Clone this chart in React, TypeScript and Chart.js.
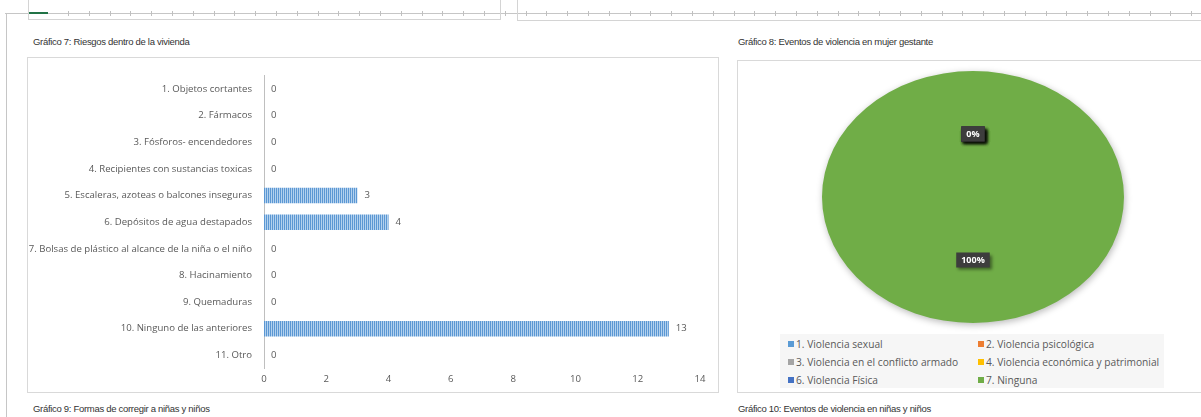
import React, { useEffect, useRef } from "react";
import { Chart, registerables } from "chart.js";

Chart.register(...registerables);

// ---------- Data ----------
const riskCategories = [
  "1. Objetos cortantes",
  "2. Fármacos",
  "3. Fósforos- encendedores",
  "4. Recipientes con sustancias toxicas",
  "5. Escaleras, azoteas o balcones inseguras",
  "6. Depósitos de agua destapados",
  "7. Bolsas de plástico al alcance de la niña o el niño",
  "8. Hacinamiento",
  "9. Quemaduras",
  "10. Ninguno de las anteriores",
  "11. Otro",
];
const riskValues = [0, 0, 0, 0, 3, 4, 0, 0, 0, 13, 0];
const riskAxisMin = 0;
const riskAxisMax = 14;
const riskAxisStep = 2;

const violenceLabels = [
  "1. Violencia sexual",
  "2. Violencia psicológica",
  "3. Violencia en el conflicto armado",
  "4. Violencia económica y patrimonial",
  "6. Violencia Física",
  "7. Ninguna",
];
const violenceValues = [0, 0, 0, 0, 0, 20];
const violenceColors = ["#5b9bd5", "#ed7d31", "#a5a5a5", "#ffc000", "#4472c4", "#70ad47"];

const pageTitles = {
  g7: "Gráfico 7: Riesgos dentro de la vivienda",
  g8: "Gráfico 8: Eventos de violencia en mujer gestante",
  g9: "Gráfico 9: Formas de corregir a niñas y niños",
  g10: "Gráfico 10: Eventos de violencia en niñas y niños",
};

const CHART_FONT = "'Open Sans', 'Noto Sans', sans-serif";
const TEXT_GRAY = "#595959";
const AXIS_FONT_SIZE = 9.6;

function makeStripePattern(): CanvasPattern | string {
  const c = document.createElement("canvas");
  c.width = 2;
  c.height = 1;
  const g = c.getContext("2d");
  if (!g) return "#7aaad9";
  g.fillStyle = "#5b97d3";
  g.fillRect(0, 0, 1, 1);
  g.fillStyle = "#b3d1ee";
  g.fillRect(1, 0, 1, 1);
  const p = g.createPattern(c, "repeat");
  return p || "#7aaad9";
}

const barValueLabels = {
  id: "barValueLabels",
  afterDatasetsDraw(chart: any) {
    const ctx = chart.ctx;
    const meta = chart.getDatasetMeta(0);
    const data = chart.data.datasets[0].data;
    ctx.save();
    ctx.font = `${AXIS_FONT_SIZE}px ${CHART_FONT}`;
    ctx.fillStyle = TEXT_GRAY;
    ctx.textAlign = "left";
    ctx.textBaseline = "middle";
    meta.data.forEach((el: any, i: number) => {
      ctx.fillText(String(data[i]), el.x + 7, el.y);
    });
    ctx.restore();
  },
};

const PIE_STRETCH = 151 / 126;

const ellipsePie = {
  id: "ellipsePie",
  beforeDatasetsDraw(chart: any) {
    const ctx = chart.ctx;
    const el = chart.getDatasetMeta(0).data[0];
    if (!el) return;
    const cx = el.x;
    const cy = el.y;
    ctx.save();
    ctx.translate(cx, cy);
    ctx.scale(PIE_STRETCH, 1);
    ctx.translate(-cx, -cy);
    ctx.shadowColor = "rgba(0,0,0,0.28)";
    ctx.shadowBlur = 7;
    ctx.shadowOffsetX = 1;
    ctx.shadowOffsetY = 2;
  },
  afterDatasetsDraw(chart: any) {
    const ctx = chart.ctx;
    ctx.restore();
    const meta = chart.getDatasetMeta(0);
    const data = chart.data.datasets[0].data as number[];
    const total = data.reduce((a, b) => a + b, 0);
    ctx.save();
    ctx.font = `bold 9px ${CHART_FONT}`;
    ctx.textAlign = "center";
    ctx.textBaseline = "middle";
    meta.data.forEach((el: any, i: number) => {
      const mid = (el.startAngle + el.endAngle) / 2;
      const r = el.outerRadius * 0.5;
      const x = el.x + Math.cos(mid) * r * PIE_STRETCH;
      const y = el.y + Math.sin(mid) * r;
      const txt = Math.round((data[i] / total) * 100) + "%";
      const w = ctx.measureText(txt).width + 10;
      const h = 15;
      ctx.save();
      ctx.shadowColor = "rgba(0,0,0,0.45)";
      ctx.shadowBlur = 3;
      ctx.shadowOffsetX = 2;
      ctx.shadowOffsetY = 2;
      ctx.fillStyle = "#3d3d3d";
      ctx.fillRect(x - w / 2, y - h / 2, w, h);
      ctx.restore();
      ctx.fillStyle = "#ffffff";
      ctx.fillText(txt, x, y + 0.5);
    });
    ctx.restore();
  },
};

function RiskBarChart() {
  const ref = useRef<HTMLCanvasElement | null>(null);
  useEffect(() => {
    if (!ref.current) return;
    const chart = new Chart(ref.current, {
      type: "bar",
      data: {
        labels: riskCategories,
        datasets: [
          {
            data: riskValues,
            backgroundColor: makeStripePattern() as any,
            borderWidth: 0,
            barPercentage: 0.58,
            categoryPercentage: 1,
          },
        ],
      },
      options: {
        indexAxis: "y",
        animation: false,
        responsive: false,
        maintainAspectRatio: false,
        layout: { padding: { top: 11.4, right: 18, left: 0, bottom: 0 } },
        plugins: { legend: { display: false }, tooltip: { enabled: false } },
        scales: {
          x: {
            min: riskAxisMin,
            max: riskAxisMax,
            ticks: {
              stepSize: riskAxisStep,
              color: TEXT_GRAY,
              font: { family: CHART_FONT, size: AXIS_FONT_SIZE },
              padding: 5,
              maxRotation: 0,
            },
            grid: { display: false, drawTicks: false },
            border: { display: false },
            afterFit: (s: any) => {
              s.height = 23.4;
            },
          },
          y: {
            ticks: {
              color: TEXT_GRAY,
              font: { family: CHART_FONT, size: AXIS_FONT_SIZE },
              padding: 12,
              autoSkip: false,
            },
            grid: { display: false, drawTicks: false },
            border: { display: true, color: "#bfbfbf", width: 1 },
            afterFit: (s: any) => {
              s.width = 236;
            },
          },
        },
      },
      plugins: [barValueLabels],
    });
    return () => chart.destroy();
  }, []);
  return (
    <canvas
      ref={ref}
      width={690}
      height={334}
      style={{ position: "absolute", left: 28, top: 58, width: 690, height: 334 }}
    />
  );
}

function ViolencePieChart() {
  const ref = useRef<HTMLCanvasElement | null>(null);
  useEffect(() => {
    if (!ref.current) return;
    const chart = new Chart(ref.current, {
      type: "pie",
      data: {
        labels: violenceLabels,
        datasets: [
          {
            data: violenceValues,
            backgroundColor: violenceColors,
            borderWidth: 0,
          },
        ],
      },
      options: {
        animation: false,
        responsive: false,
        maintainAspectRatio: false,
        layout: { padding: { top: 10, bottom: 70, left: 109, right: 101 } },
        plugins: { legend: { display: false }, tooltip: { enabled: false } },
      },
      plugins: [ellipsePie],
    });
    return () => chart.destroy();
  }, []);
  return (
    <canvas
      ref={ref}
      width={462}
      height={332}
      style={{ position: "absolute", left: 738, top: 61, width: 462, height: 332 }}
    />
  );
}

function PieLegend() {
  return (
    <div
      style={{
        position: "absolute",
        left: 780,
        top: 334,
        width: 384,
        height: 54,
        background: "#f6f6f6",
        display: "grid",
        gridTemplateColumns: "190px 190px",
        gridAutoRows: "18px",
        paddingLeft: 8,
        paddingTop: 1,
        boxSizing: "border-box",
      }}
    >
      {violenceLabels.map((lab, i) => (
        <div
          key={lab}
          style={{
            display: "flex",
            alignItems: "center",
            fontFamily: CHART_FONT,
            fontSize: 10.2,
            color: TEXT_GRAY,
            whiteSpace: "nowrap",
          }}
        >
          <span
            style={{
              display: "inline-block",
              width: 6,
              height: 6,
              background: violenceColors[i],
              marginRight: 2,
            }}
          />
          {lab}
        </div>
      ))}
    </div>
  );
}

const titleStyle: React.CSSProperties = {
  position: "absolute",
  fontFamily: "'Liberation Sans', Arial, sans-serif",
  fontSize: 9.5,
  letterSpacing: -0.3,
  color: "#333",
  whiteSpace: "nowrap",
  lineHeight: "12px",
};

export default function App() {
  return (
    <div
      style={{
        position: "absolute",
        left: 0,
        top: 0,
        width: 1201,
        height: 417,
        overflow: "hidden",
        background: "#fff",
      }}
    >
      {/* top sheet strip */}
      <div style={{ position: "absolute", left: 5, top: 13, width: 1196, height: 1, background: "#c6c6c6" }} />
      <div
        style={{
          position: "absolute",
          left: 68,
          top: 11,
          width: 1133,
          height: 5,
          background: "repeating-linear-gradient(to right, #c0c0c0 0px, #c0c0c0 1px, transparent 1px, transparent 20.8px)",
        }}
      />
      <div style={{ position: "absolute", left: 28, top: 12, width: 20, height: 2, background: "#217346" }} />
      <div style={{ position: "absolute", left: 28, top: -2, width: 473, height: 22, border: "1px solid #d4d4d4", boxSizing: "border-box" }} />
      <div style={{ position: "absolute", left: 517, top: -2, width: 720, height: 23, border: "1px solid #d4d4d4", boxSizing: "border-box" }} />
      <div style={{ position: "absolute", left: 6, top: 13, width: 1, height: 404, background: "#c6c6c6" }} />

      {/* titles */}
      <div style={{ ...titleStyle, left: 33, top: 36 }}>{pageTitles.g7}</div>
      <div style={{ ...titleStyle, left: 738, top: 36 }}>{pageTitles.g8}</div>
      <div style={{ ...titleStyle, left: 33, top: 403 }}>{pageTitles.g9}</div>
      <div style={{ ...titleStyle, left: 738, top: 403 }}>{pageTitles.g10}</div>

      {/* chart boxes */}
      <div style={{ position: "absolute", left: 27, top: 57, width: 692, height: 336, border: "1px solid #d9d9d9", boxSizing: "border-box" }} />
      <div style={{ position: "absolute", left: 737, top: 60, width: 480, height: 333, border: "1px solid #d9d9d9", boxSizing: "border-box" }} />

      <RiskBarChart />
      <ViolencePieChart />
      <PieLegend />
    </div>
  );
}
